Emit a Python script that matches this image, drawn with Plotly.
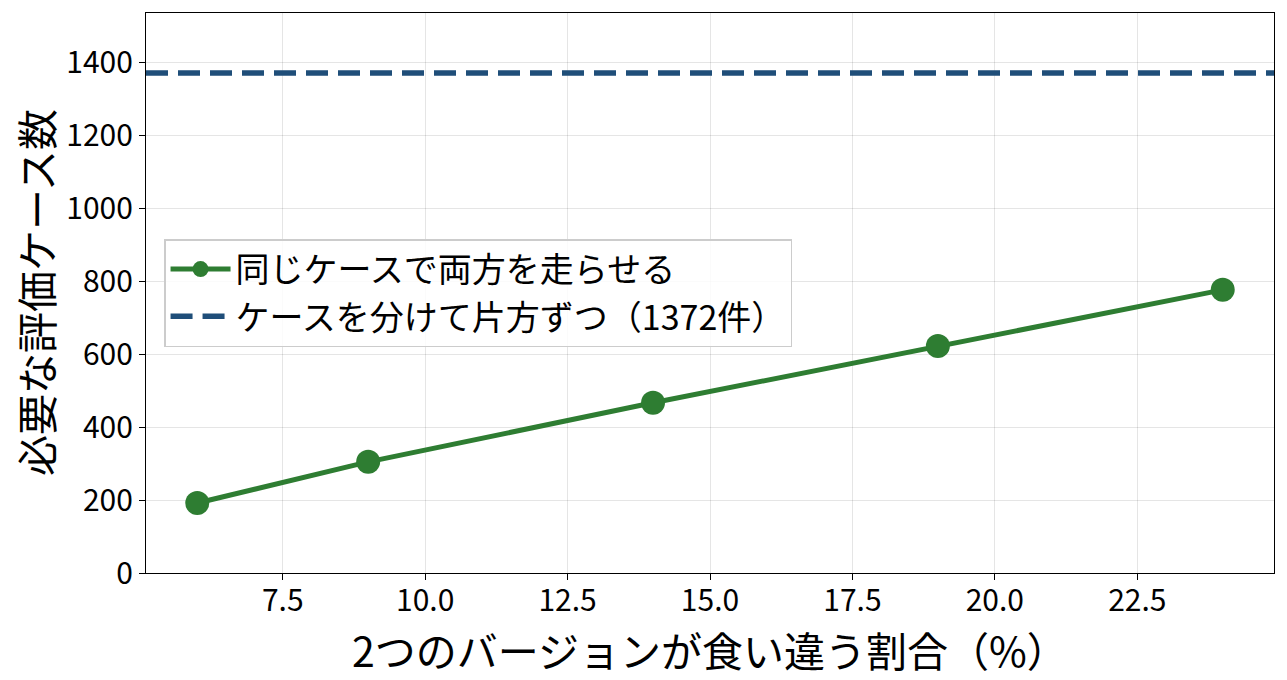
import plotly.graph_objects as go

# 食い違い率（%）と必要な評価ケース数
disagree_pct = [6, 9, 14, 19, 24]
paired_cases = [192, 305, 467, 623, 777]
split_cases = 1372

x_title = "2つのバージョンが食い違う割合（%）"
y_title = "必要な評価ケース数"

x_range = [5.1, 24.9]
y_max = split_cases * 1.12

font_family = "Noto Sans CJK JP"
green = "#2e7d32"
navy = "#1f4e79"

fig = go.Figure()

fig.add_trace(
    go.Scatter(
        x=disagree_pct,
        y=paired_cases,
        mode="lines+markers",
        name="同じケースで両方を走らせる",
        line=dict(color=green, width=5),
        marker=dict(color=green, size=24),
    )
)

fig.add_trace(
    go.Scatter(
        x=x_range,
        y=[split_cases, split_cases],
        mode="lines",
        name=f"ケースを分けて片方ずつ（{split_cases}件）",
        line=dict(color=navy, width=5.5, dash="22px,10px"),
    )
)

axis_style = dict(
    showline=True,
    linecolor="black",
    linewidth=1.3,
    mirror=True,
    ticks="outside",
    ticklen=6,
    tickcolor="black",
    showgrid=True,
    gridcolor="rgba(0,0,0,0.1)",
    zeroline=False,
    tickfont=dict(family=font_family, size=30, color="black"),
)

fig.update_xaxes(
    range=x_range,
    tick0=7.5,
    dtick=2.5,
    tickformat=".1f",
    ticklabelstandoff=-5,
    **axis_style,
)
fig.update_yaxes(
    range=[0, y_max],
    dtick=200,
    **axis_style,
)

# axis titles placed as annotations so they sit where the reference has them
title_font = dict(family=font_family, size=41, color="black")
fig.add_annotation(
    text=x_title, xref="paper", yref="paper", x=0.5, y=0,
    yshift=-76, yanchor="middle", showarrow=False, font=title_font,
)
fig.add_annotation(
    text=y_title, xref="paper", yref="paper", x=0, y=0.5,
    xshift=-111, xanchor="center", textangle=-90, showarrow=False,
    font=title_font,
)

fig.update_layout(
    width=1287,
    height=680,
    margin=dict(l=146, r=13, t=13, b=107),
    plot_bgcolor="white",
    paper_bgcolor="white",
    font=dict(family=font_family, color="black"),
    legend=dict(
        x=0.016,
        y=0.5,
        xanchor="left",
        yanchor="middle",
        bgcolor="rgba(255,255,255,0.85)",
        bordercolor="#cccccc",
        borderwidth=1.5,
        font=dict(family=font_family, size=34, color="black"),
        itemwidth=60,
    ),
)

# drop the page's default body margin so the figure fills the window
fig.write_html(
    "out.html",
    config={"displayModeBar": False},
    post_script="document.body.style.margin='0';",
)
